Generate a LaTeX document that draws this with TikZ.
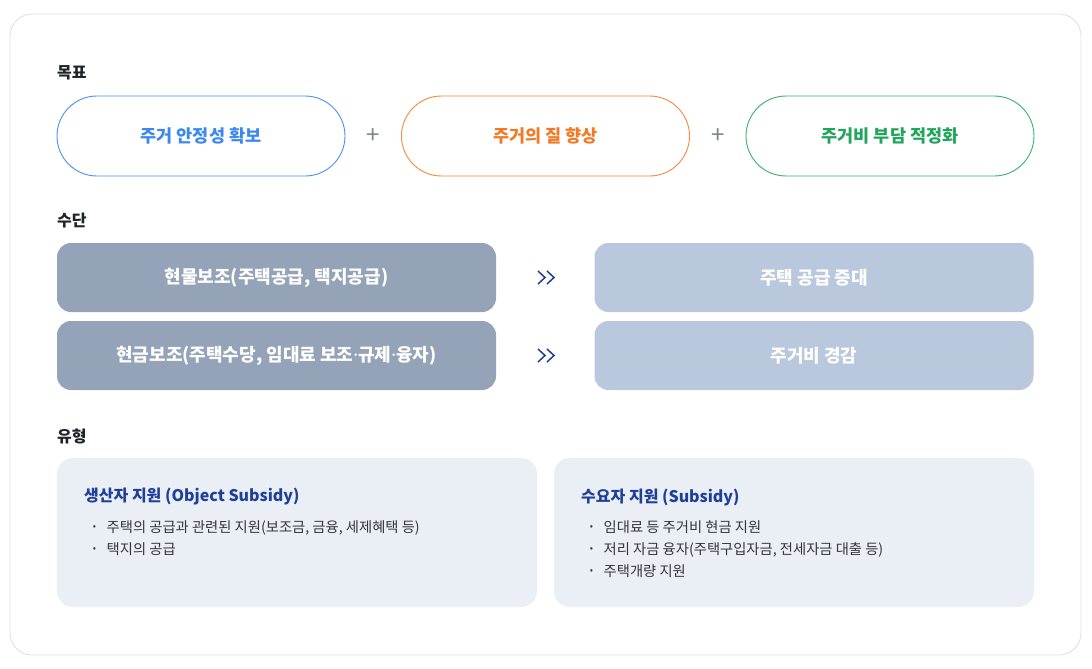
\documentclass[tikz,border=0pt]{standalone}
\usepackage{fontspec}
\setmainfont{Noto Sans CJK KR}
\newfontfamily\latinfont{Noto Sans}
\usepackage{tikz}

\definecolor{framegray}{HTML}{DEDFE2}
\definecolor{headtext}{HTML}{1F2329}
\definecolor{goalblue}{HTML}{4A90F2}
\definecolor{goalbluetext}{HTML}{3A88F0}
\definecolor{goalorange}{HTML}{F58A3C}
\definecolor{goalorangetext}{HTML}{F27A24}
\definecolor{goalgreen}{HTML}{35B46C}
\definecolor{goalgreentext}{HTML}{20A55A}
\definecolor{plusgray}{HTML}{7F848C}
\definecolor{meansdark}{HTML}{94A3B8}
\definecolor{meanslight}{HTML}{B9C8DD}
\definecolor{chevblue}{HTML}{1E3F90}
\definecolor{kindfill}{HTML}{EAEFF5}
\definecolor{kindblue}{HTML}{1F3F9A}
\definecolor{bodytext}{HTML}{33363B}

\newcommand{\itm}[1]{\makebox[14pt][l]{\raisebox{1.5pt}{\latinfont\fontsize{10}{10}\selectfont •}}#1}
\newcommand{\mdot}{{\latinfont\bfseries ·}}

\begin{document}
\begin{tikzpicture}[x=1pt,y=-1pt]

  \tikzstyle{frame}=[draw=framegray,fill=white,rounded corners=22pt,line width=0.8pt]
  \tikzstyle{head}=[anchor=west,inner sep=0pt,text=headtext,
    font=\bfseries\fontsize{16}{19}\selectfont]
  \tikzstyle{goal}=[rectangle,rounded corners=40pt,fill=white,line width=0.9pt,
    minimum width=288pt,minimum height=80pt,font=\bfseries\fontsize{17.5}{20}\selectfont]
  \tikzstyle{plus}=[inner sep=0pt,text=plusgray,font=\fontsize{24}{24}\selectfont]
  \tikzstyle{means}=[rectangle,rounded corners=14pt,fill=meansdark,text=white,
    minimum width=439pt,minimum height=69pt,font=\bfseries\fontsize{18}{21}\selectfont]
  \tikzstyle{effect}=[means,fill=meanslight]
  \tikzstyle{chev}=[draw=chevblue,line width=1.5pt]
  \tikzstyle{kind}=[rectangle,rounded corners=16pt,fill=kindfill,
    minimum width=480pt,minimum height=149pt]
  \tikzstyle{kindtitle}=[anchor=west,inner sep=0pt,text=kindblue,
    font=\bfseries\fontsize{16}{19}\selectfont]
  \tikzstyle{item}=[anchor=base west,inner sep=0pt,text=bodytext,
    font=\fontsize{14.3}{22}\selectfont]

  \useasboundingbox (0,0) rectangle (1092,669);
  \draw [frame] (10,14) rectangle (1081,655);

  %% goals
  \node (goalhd) at (57,73)     [head] {목표};
  \node (g1)     at (201,136)   [goal,draw=goalblue,text=goalbluetext]     {주거 안정성 확보};
  \node (g2)     at (545.5,136) [goal,draw=goalorange,text=goalorangetext] {주거의 질 향상};
  \node (g3)     at (890,136)   [goal,draw=goalgreen,text=goalgreentext]   {주거비 부담 적정화};
  \node (p1)     at (373,136)   [plus] {+};
  \node (p2)     at (718,136)   [plus] {+};

  %% means
  \node (meanhd) at (57,221)    [head] {수단};
  \node (m1)     at (276.5,277.5) [means]  {현물보조(주택공급, 택지공급)};
  \node (m2)     at (276.5,355.5) [means]  {현금보조(주택수당, 임대료 보조\mdot 규제\mdot 융자)};
  \node (e1)     at (814,277.5)   [effect] {주택 공급 증대};
  \node (e2)     at (814,355.5)   [effect] {주거비 경감};

  \coordinate (c1) at (546,277.5);
  \coordinate (c2) at (546,355.5);
  \draw [chev] (c1) ++(-8,-6.5) -- ++(7,6.5) -- ++(-7,6.5);
  \draw [chev] (c1) ++(1,-6.5)  -- ++(7,6.5) -- ++(-7,6.5);
  \draw [chev] (c2) ++(-8,-6.5) -- ++(7,6.5) -- ++(-7,6.5);
  \draw [chev] (c2) ++(1,-6.5)  -- ++(7,6.5) -- ++(-7,6.5);

  %% types
  \node (typehd) at (57,436)    [head] {유형};
  \node (k1)     at (297,532.5) [kind] {};
  \node (k2)     at (794,532.5) [kind] {};
  \node (k1t)    at (84,497)    [kindtitle] {생산자 지원 (Object Subsidy)};
  \node (k2t)    at (581,497)   [kindtitle] {수요자 지원 (Subsidy)};
  \node (k1a)    at (92.5,532)  [item] {\itm{주택의 공급과 관련된 지원(보조금, 금융, 세제혜택 등)}};
  \node (k1b)    at (92.5,554)  [item] {\itm{택지의 공급}};
  \node (k2a)    at (589.5,532) [item] {\itm{임대료 등 주거비 현금 지원}};
  \node (k2b)    at (589.5,554) [item] {\itm{저리 자금 융자(주택구입자금, 전세자금 대출 등)}};
  \node (k2c)    at (589.5,576) [item] {\itm{주택개량 지원}};

\end{tikzpicture}
\end{document}
